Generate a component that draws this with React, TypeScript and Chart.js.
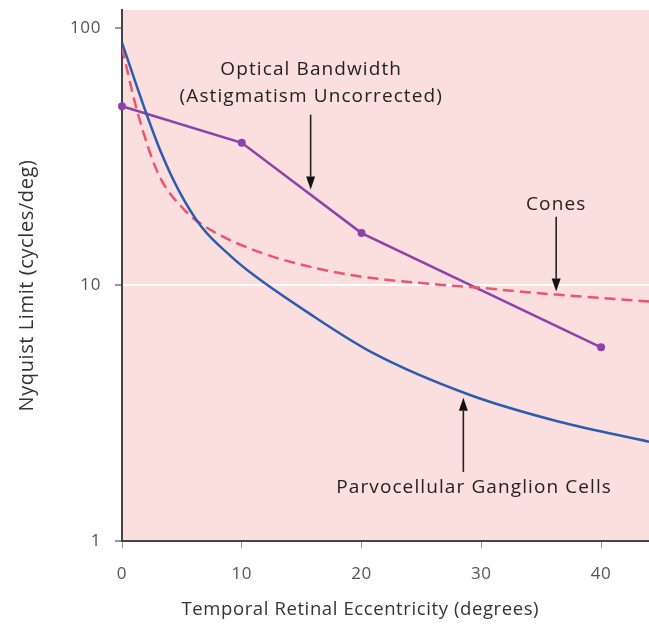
import React, { useEffect, useRef } from 'react';
import { Chart, registerables } from 'chart.js';

Chart.register(...registerables);

const xTicks = [0, 10, 20, 30, 40];
const yTicks = [1, 10, 100];

const opticalX = [0, 10, 20, 40];
const opticalY = [49.7, 35.8, 15.9, 5.7];

const parvoX = [0, 2, 3.3, 4.7, 6.6, 9.1, 11, 15.4, 20.9, 29, 36.5, 44];
const parvoY = [88, 47, 32.5, 23.5, 16.9, 12.9, 10.9, 7.85, 5.43, 3.72, 2.92, 2.44];

const conesX = [0, 1.3, 3, 5.2, 6.9, 11.3, 18.2, 26.5, 29, 36.25, 44];
const conesY = [84, 47, 27.3, 19.6, 16.9, 13.5, 11.1, 10, 9.8, 9.15, 8.6];

const FONT = '"Open Sans", Lato, sans-serif';
const X_TITLE = 'Temporal Retinal Eccentricity (degrees)';
const Y_TITLE = 'Nyquist Limit (cycles/deg)';

const toPts = (xs: number[], ys: number[]) => xs.map((x, i) => ({ x, y: ys[i] }));

function drawArrow(ctx: CanvasRenderingContext2D, x: number, yFrom: number, yTip: number) {
  const dir = yTip > yFrom ? 1 : -1;
  const head = 13;
  ctx.save();
  ctx.strokeStyle = '#222';
  ctx.fillStyle = '#111';
  ctx.lineWidth = 1.6;
  ctx.beginPath();
  ctx.moveTo(x, yFrom);
  ctx.lineTo(x, yTip - dir * head);
  ctx.stroke();
  ctx.beginPath();
  ctx.moveTo(x, yTip);
  ctx.lineTo(x - 4.5, yTip - dir * head);
  ctx.lineTo(x + 4.5, yTip - dir * head);
  ctx.closePath();
  ctx.fill();
  ctx.restore();
}

const annotationPlugin = {
  id: 'annotations',
  beforeDraw(chart: any) {
    const { ctx, chartArea } = chart;
    ctx.save();
    ctx.fillStyle = '#fbdfdf';
    ctx.fillRect(chartArea.left, chartArea.top, chartArea.right - chartArea.left, chartArea.bottom - chartArea.top);
    ctx.restore();
    (ctx as any).letterSpacing = '0.6px';
  },
  afterDatasetsDraw(chart: any) {
    const { ctx, chartArea } = chart;
    const xs = chart.scales.x;
    const ys = chart.scales.y;
    const px = (v: number) => xs.getPixelForValue(v);
    const py = (v: number) => ys.getPixelForValue(v);
    ctx.save();
    ctx.fillStyle = '#222';
    ctx.font = `19px ${FONT}`;
    (ctx as any).letterSpacing = '1.1px';
    ctx.textAlign = 'center';
    ctx.textBaseline = 'middle';
    ctx.fillText('Optical Bandwidth', px(15.8), py(69.2));
    ctx.fillText('(Astigmatism Uncorrected)', px(15.8), py(54.2));
    ctx.fillText('Cones', px(36.25), py(20.5));
    ctx.fillText('Parvocellular Ganglion Cells', px(29.4), py(1.61));
    ctx.restore();
    drawArrow(ctx, px(15.75), py(46.1), py(23.5));
    drawArrow(ctx, px(36.25), py(18.4), py(9.4));
    drawArrow(ctx, px(28.5), py(1.86), py(3.62));

    // axis titles
    ctx.save();
    ctx.fillStyle = '#333';
    ctx.textAlign = 'center';
    ctx.textBaseline = 'middle';
    ctx.font = `18.5px ${FONT}`;
    (ctx as any).letterSpacing = '0.6px';
    ctx.fillText(X_TITLE, px(19.9), 610);
    ctx.font = `20px ${FONT}`;
    ctx.translate(27, (chartArea.top + chartArea.bottom) / 2 + 10);
    ctx.rotate(-Math.PI / 2);
    ctx.fillText(Y_TITLE, 0, 0);
    ctx.restore();
  },
};

export default function App() {
  const ref = useRef<HTMLCanvasElement | null>(null);
  useEffect(() => {
    document.body.style.margin = '0';
    const canvas = ref.current;
    if (!canvas) return;
    const chart = new Chart(canvas, {
      type: 'line',
      data: {
        datasets: [
          {
            label: 'Parvocellular Ganglion Cells',
            data: toPts(parvoX, parvoY),
            borderColor: '#2b5cad',
            borderWidth: 2.5,
            pointRadius: 0,
            cubicInterpolationMode: 'monotone',
            fill: false,
          },
          {
            label: 'Cones',
            data: toPts(conesX, conesY),
            borderColor: '#ec5470',
            borderWidth: 2.5,
            borderDash: [11, 6],
            pointRadius: 0,
            cubicInterpolationMode: 'monotone',
            fill: false,
          },
          {
            label: 'Optical Bandwidth',
            data: toPts(opticalX, opticalY),
            borderColor: '#9040aa',
            backgroundColor: '#9040aa',
            borderWidth: 2.5,
            pointRadius: 4,
            pointBorderWidth: 0,
            tension: 0,
            fill: false,
            clip: false,
          },
        ],
      },
      options: {
        responsive: false,
        animation: false,
        layout: { autoPadding: false, padding: { top: 10, right: 0, left: 0, bottom: 0 } },
        plugins: { legend: { display: false }, tooltip: { enabled: false } },
        scales: {
          x: {
            type: 'linear',
            min: 0,
            max: 44,
            afterBuildTicks: (s: any) => {
              s.ticks = xTicks.map((v) => ({ value: v }));
            },
            afterFit: (s: any) => {
              s.height = 84;
              s.paddingLeft = 0;
              s.paddingRight = 0;
            },
            border: { color: '#444', width: 2 },
            grid: { color: 'rgba(0,0,0,0)', tickColor: '#999', tickLength: 7, drawOnChartArea: false },
            ticks: { color: '#555', font: { family: FONT, size: 17 }, padding: 16, callback: (v: any) => String(v) },
            title: { display: false, text: X_TITLE },
          },
          y: {
            type: 'logarithmic',
            min: 1,
            max: 118,
            afterBuildTicks: (s: any) => {
              s.ticks = yTicks.map((v) => ({ value: v }));
            },
            afterFit: (s: any) => {
              s.width = 122;
              s.paddingTop = 0;
              s.paddingBottom = 0;
            },
            border: { color: '#444', width: 2 },
            grid: {
              color: (c: any) => (c.tick && c.tick.value === 10 ? '#ffffff' : 'rgba(0,0,0,0)'),
              lineWidth: 2,
              tickColor: '#999',
              tickLength: 7,
            },
            ticks: { color: '#555', font: { family: FONT, size: 17 }, padding: 14, callback: (v: any) => String(v) },
            title: { display: false, text: Y_TITLE },
          },
        },
      },
      plugins: [annotationPlugin],
    });
    return () => chart.destroy();
  }, []);
  return <canvas ref={ref} width={649} height={625} style={{ display: 'block', width: 649, height: 625 }} />;
}
